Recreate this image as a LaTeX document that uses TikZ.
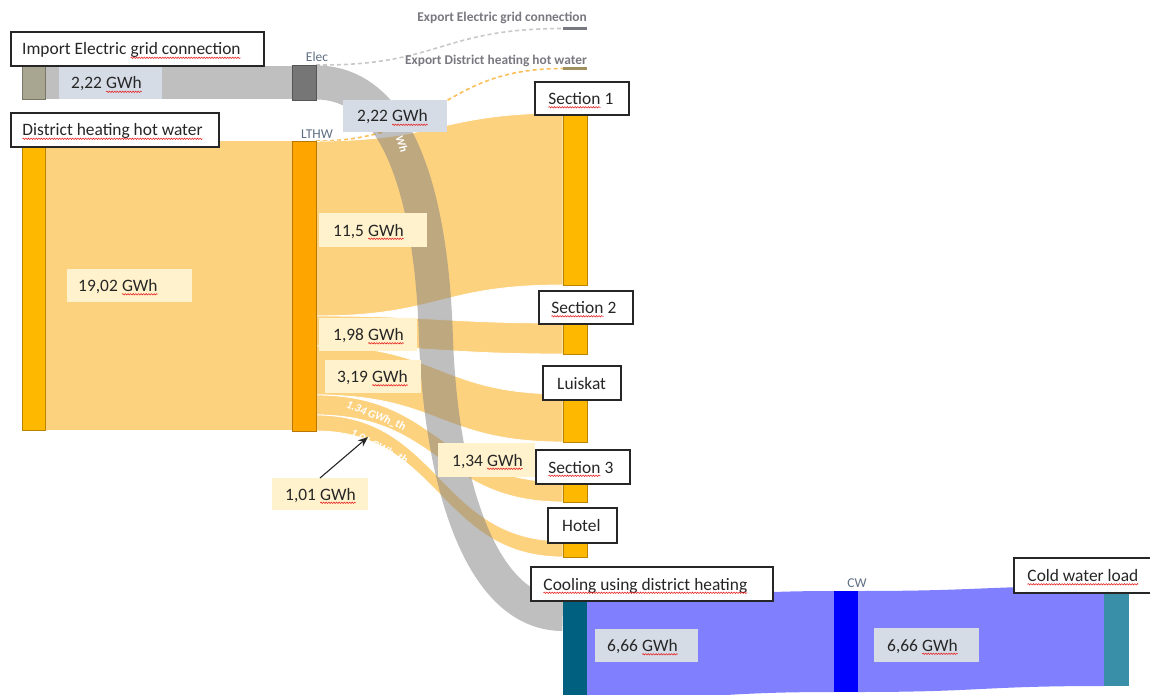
\documentclass[tikz,border=0pt]{standalone}
\usepackage{fontspec}
\setmainfont{Carlito}
\usetikzlibrary{arrows.meta,calc,decorations.pathmorphing}
\definecolor{oflow}{RGB}{253,210,127}
\definecolor{cgold}{RGB}{255,184,0}
\definecolor{corange}{RGB}{255,165,0}
\definecolor{cimp}{RGB}{168,166,144}
\definecolor{celec}{RGB}{118,118,118}
\definecolor{ccool}{RGB}{0,96,128}
\definecolor{ccw}{RGB}{0,0,255}
\definecolor{ccwl}{RGB}{58,143,168}
\definecolor{bflow}{RGB}{128,128,255}
\definecolor{cream}{RGB}{255,242,204}
\definecolor{lgray}{RGB}{214,220,229}
\definecolor{labblue}{RGB}{95,110,130}
\definecolor{exgray}{RGB}{120,120,128}
\definecolor{exolive}{RGB}{160,144,96}
\definecolor{dashor}{RGB}{250,190,90}
\definecolor{dashgr}{RGB}{200,200,200}
\definecolor{spell}{RGB}{230,30,30}
% red spell-check squiggle under a word
\newcommand\sq[1]{\tikz[baseline=(sqw.base)]{\node[inner sep=0pt,outer sep=0pt,anchor=base] (sqw) {#1};
  \draw[spell, line width=0.55pt, decorate, decoration={snake, amplitude=0.7pt, segment length=2.6pt}]
     ([yshift=-2.8pt]sqw.base west) -- ([yshift=-2.8pt]sqw.base east);}}
\pgfdeclarelayer{bg}
\pgfsetlayers{bg,main}
% sankey band between two vertical edges
\newcommand\bandp[6]{(#1,#2) .. controls ({(#1+#4)/2},#2) and ({(#1+#4)/2},#5) .. (#4,#5) -- (#4,#6) .. controls ({(#1+#4)/2},#6) and ({(#1+#4)/2},#3) .. (#1,#3) -- cycle}
\newcommand\tbox[7]{\draw[tboxst] (#2,#3) rectangle (#4,#5); \node[ttext] (#1) at (#6,{(#3+#5)/2+6}) {#7};}
\newcommand\vlab[8]{\fill[#7] (#2,#3) rectangle (#4,#5); \node[vtext] (#1) at (#6,{(#3+#5)/2+6}) {#8};}
\begin{document}
\begin{tikzpicture}[x=1pt,y=-1pt,
  barnode/.style={draw=#1!72!black, fill=#1, line width=0.7pt, inner sep=0pt, outer sep=0pt, minimum width=24pt},
  oband/.style={fill=oflow, draw=white, line width=0.8pt},
  bband/.style={fill=bflow},
  tboxst/.style={fill=white, draw=black!85, line width=1.2pt},
  ttext/.style={anchor=base west, inner sep=0pt, font=\fontsize{17.4}{20}\selectfont, text=black!85},
  vtext/.style={anchor=base west, inner sep=0pt, font=\fontsize{17.4}{20}\selectfont, text=black!85},
  smalllab/.style={inner sep=0pt, font=\fontsize{13.5}{15}\selectfont, text=labblue},
  exlab/.style={anchor=base east, inner sep=0pt, font=\fontsize{13.4}{15}\selectfont\bfseries, text=exgray},
  rlab/.style={inner sep=0pt, font=\fontsize{11.5}{12}\selectfont\bfseries\itshape, text=white},
  edash/.style={line width=1.6pt, dash pattern=on 4pt off 3pt}
]
\useasboundingbox (0,0) rectangle (1150,695);

% ---------- bars (nodes) ----------
\node[barnode=cimp, minimum width=23pt, minimum height=33pt] (imp) at (33.5,82.5) {};
\node[barnode=cgold, minimum width=23pt, minimum height=289pt] (dh) at (33.5,285.5) {};
\node[barnode=celec, minimum height=35pt] (elec) at (304,82.5) {};
\node[barnode=corange, minimum height=290pt] (lthw) at (304,286) {};
\node[barnode=cgold, minimum height=172pt] (s1) at (575,199) {};
\node[barnode=cgold, minimum height=31pt] (s2) at (575,338.5) {};
\node[barnode=cgold, minimum height=48pt] (lu) at (575,418) {};
\node[barnode=cgold, minimum height=20pt] (s3) at (575,492) {};
\node[barnode=cgold, minimum height=16pt] (ho) at (575,549) {};
\node[fill=ccool, inner sep=0pt, minimum width=24pt, minimum height=99pt] (cool) at (575,650.5) {};
\node[fill=ccw, inner sep=0pt, minimum width=24pt, minimum height=101pt] (cw) at (846,641.5) {};
\node[fill=ccwl, inner sep=0pt, minimum width=25pt, minimum height=93pt] (cwl) at (1116.5,639.5) {};
\node[fill=exgray, inner sep=0pt, minimum width=24pt, minimum height=3pt] (exE) at (575,28.5) {};
\node[fill=exolive, inner sep=0pt, minimum width=24pt, minimum height=3pt] (exD) at (575,68.5) {};

% ---------- flows (background layer) ----------
\begin{pgfonlayer}{bg}
  \fill[oflow] (dh.north east) rectangle (lthw.west |- dh.south);
  \path[oband] \bandp{316}{141}{316}{563}{113}{285};
  \path[oband] \bandp{316}{316}{346}{563}{323}{354};
  \path[oband] \bandp{316}{346}{395}{563}{394}{442};
  \path[oband] \bandp{316}{395}{415}{563}{482}{502};
  \path[oband] \bandp{316}{415}{431}{563}{541}{557};
  % export dashed lines
  \draw[edash, dashgr] (elec.north east) .. controls (440,66) and (440,28.5) .. (exE.west);
  \draw[edash, dashor] (lthw.north east) .. controls (440,141) and (440,68.5) .. (exD.west);
  \begin{scope}
    \clip \bandp{316}{141}{316}{563}{113}{285};
    \draw[edash, white] (lthw.north east) .. controls (440,141) and (440,68.5) .. (exD.west);
  \end{scope}
  % electricity flow
  \fill[gray, opacity=0.5] (imp.north east) rectangle (elec.west |- imp.south);
  \draw[gray, opacity=0.5, line width=34pt] (elec.east) .. controls (400,82.5) and (432,200) .. (436,340)
        .. controls (441,475) and (478,614) .. (cool.west |- 0,614);
  % cooling flows
  \path[bband] \bandp{587}{601}{700}{834}{591}{692};
  \path[bband] \bandp{858}{591}{692}{1104}{586}{686};
\end{pgfonlayer}

% ---------- small labels ----------
\node[smalllab] (elecl) at (317,57) {Elec};
\node[smalllab] (lthwl) at (317,134) {LTHW};
\node[smalllab] (cwlab) at (857,583) {CW};
\node[exlab] (exEl) at (587,21.5) {Export Electric grid connection};
\node[exlab] (exDl) at (587,65) {Export District heating hot water};

% rotated band labels
\node[rlab, rotate=-70] (t222) at (402,144) {Wh};
\node[rlab, rotate=-21] (t134) at (376,416) {1.34 GWh\_th};
\node[rlab, rotate=-27] (t101) at (379,447) {1.01 GWh\_th};

% ---------- value labels ----------
\vlab{l222a}{59}{67}{162}{99}{71}{lgray}{2,22 \sq{GWh}}
\vlab{l222b}{343}{100}{447}{132}{357}{lgray}{2,22 \sq{GWh}}
\vlab{l1902}{67}{269}{192}{302}{78}{cream}{19,02 \sq{GWh}}
\vlab{l115}{319}{213}{427}{247}{333}{cream}{11,5 \sq{GWh}}
\vlab{l198}{319}{318}{417}{351}{333}{cream}{1,98 \sq{GWh}}
\vlab{l319}{325}{360}{421}{393}{337}{cream}{3,19 \sq{GWh}}
\vlab{l134}{438}{443}{535}{477}{452}{cream}{1,34 \sq{GWh}}
\vlab{l101}{272}{478}{368}{510}{285}{cream}{1,01 \sq{GWh}}
\vlab{l666a}{595}{629}{698}{662}{607}{lgray}{6,66 \sq{GWh}}
\vlab{l666b}{874}{628}{979}{662}{887}{lgray}{6,66 \sq{GWh}}

% ---------- title boxes ----------
\tbox{bimp}{11}{32}{264}{66}{22}{Import Electric \sq{grid connection}}
\tbox{bdh}{11}{113}{219}{147}{22}{\sq{District heating hot water}}
\tbox{bs1}{535}{82}{629}{115}{548}{\sq{Section} 1}
\tbox{bs2}{539}{291}{633}{324}{551}{\sq{Section} 2}
\tbox{blu}{543}{366}{621}{400}{557}{Luiskat}
\tbox{bs3}{536}{450}{630}{484}{548}{\sq{Section} 3}
\tbox{bho}{548}{508}{617}{543}{562}{Hotel}
\tbox{bcool}{531}{567}{773}{601}{543}{\sq{Cooling using district heating}}
\tbox{bcwl}{1014}{558}{1153}{593}{1027}{\sq{Cold water load}}

% ---------- arrow ----------
\coordinate (arrtail) at (320,478);
\coordinate (arrtip) at (368,437);
\draw[-{Stealth[length=10pt,width=8pt]}, line width=1.1pt, black!85] (arrtail) -- (arrtip);
\end{tikzpicture}
\end{document}
